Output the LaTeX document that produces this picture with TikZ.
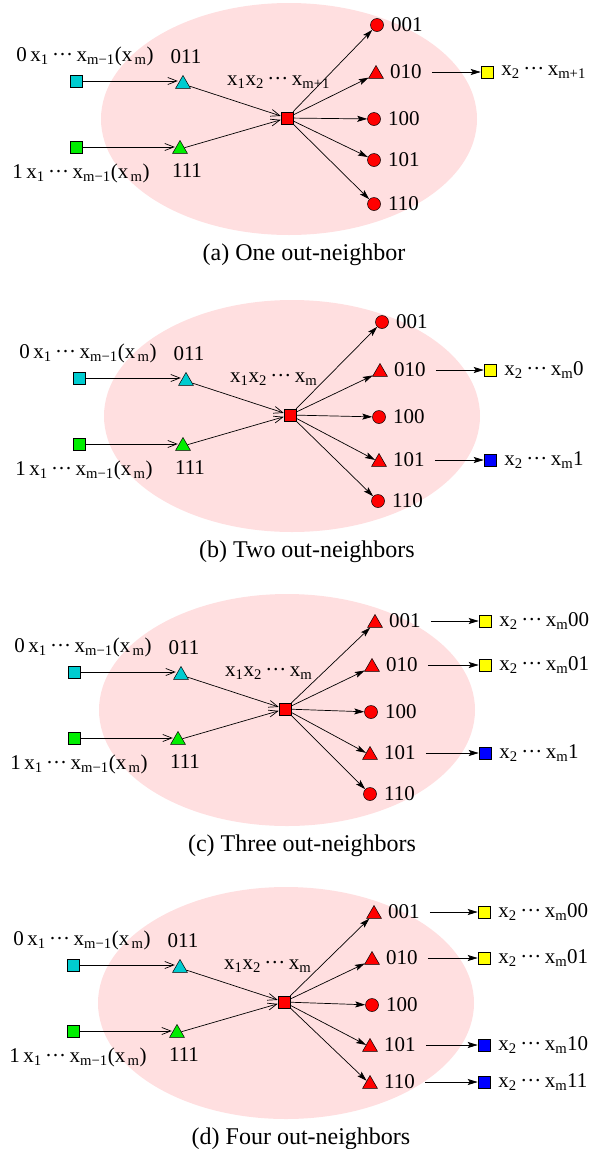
\documentclass[tikz,border=0pt]{standalone}
\usepackage{fontspec}
\setmainfont{Liberation Serif}
\usetikzlibrary{arrows.meta,shapes.geometric}
\definecolor{ellpink}{RGB}{255,223,224}
\definecolor{mycyan}{RGB}{0,204,208}
\definecolor{mygreen}{RGB}{0,238,0}
\definecolor{myyellow}{RGB}{255,255,0}
\definecolor{myblue}{RGB}{0,0,255}
\definecolor{myred}{RGB}{255,0,0}
\newcommand\xx[1]{x\textsubscript{#1}}
\newcommand\dts{\,···\,}
\tikzset{
 sqr/.style={shape=rectangle, draw, line width=0.5pt, minimum size=12pt, inner sep=0pt},
 rcir/.style={circle, draw, line width=0.5pt, fill=myred, minimum size=13pt, inner sep=0pt},
 tri/.style={regular polygon, regular polygon sides=3, draw, line width=0.5pt, minimum size=17pt, inner sep=0pt, yshift=-2pt},
 rtri/.style={tri, fill=myred},
 lab/.style={font=\fontsize{21}{25}\selectfont, inner sep=1pt},
 caplab/.style={font=\fontsize{24}{28}\selectfont, inner sep=1pt},
 inarr/.style={line width=0.7pt, -{Straight Barb[length=9pt,width=7pt]}},
 outarr/.style={line width=0.7pt, -{Stealth[length=10pt,width=6pt,inset=2pt]}},
 extarr/.style={outarr, shorten <=9pt},
}
\newcommand\ellpanel[3]{%
 \fill[ellpink] (2,1) ellipse [x radius=188pt, y radius=116pt];
 \node[sqr,fill=mycyan] (#1a) at (-211,-37) {};
 \node[sqr,fill=mygreen] (#1b) at (-211,29) {};
 \node[tri,fill=mycyan] (#1p) at (-104,-36) {};
 \node[tri,fill=mygreen] (#1q) at (-107,29) {};
 \node[sqr,fill=myred] (#1c) at (0,0) {};
 \node[lab] (#1la) at (-202,-62) {0\,\xx{1}\dts\xx{m−1}(x\textsubscript{\,m})};
 \node[lab] (#1lb) at (-206,55) {1\,\xx{1}\dts\xx{m−1}(x\textsubscript{\,m})};
 \node[lab] (#1lp) at (-101,-61) {011};
 \node[lab] (#1lq) at (-100,53) {111};
 \node[lab,anchor=west] (#1lc) at (-61,-36) {#2};
 \node[caplab] (#1cap) at (17,137) {#3};
 \draw[inarr] (#1a) -- (#1a -| #1p.west);
 \draw[inarr] (#1b) -- (#1b -| #1q.west);
 \draw[inarr] (#1p) -- (#1c);
 \draw[inarr] (#1q) -- (#1c);
}
\newcommand\outpt[6]{%
 \node[#3] (#1o#2) at (#4,#5) {};
 \node[lab,anchor=west] (#1t#2) at ({#4+13},#5) {#6};
 \draw[outarr] (#1c) -- (#1o#2);
}
\newcommand\extpt[5]{%
 \node[sqr,fill=#3] (#1e#2) at (200,#4) {};
 \node[lab,anchor=west] (#1x#2) at ([xshift=7pt]#1e#2.east) {#5};
 \draw[extarr] (#1t#2) -- (#1e#2);
}
\begin{document}
\begin{tikzpicture}[x=1pt,y=-1pt]
\useasboundingbox (0,0) rectangle (603,1149);
% (a)
\begin{scope}[shift={(287,118)}]
 \ellpanel{a}{\xx{1}\xx{2}\dts\xx{m+1}}{(a) One out-neighbor}
 \outpt{a}{1}{rcir}{90}{-93}{001}
 \outpt{a}{2}{rtri}{89}{-46}{010}
 \outpt{a}{3}{rcir}{87}{1}{100}
 \outpt{a}{4}{rcir}{87}{42}{101}
 \outpt{a}{5}{rcir}{87}{86}{110}
 \extpt{a}{2}{myyellow}{-46}{\xx{2}\dts\xx{m+1}}
\end{scope}
% (b)
\begin{scope}[shift={(290,415)}]
 \ellpanel{b}{\xx{1}\xx{2}\dts\xx{m}}{(b) Two out-neighbors}
 \outpt{b}{1}{rcir}{92}{-93}{001}
 \outpt{b}{2}{rtri}{90}{-45}{010}
 \outpt{b}{3}{rcir}{89}{2}{100}
 \outpt{b}{4}{rtri}{89}{45}{101}
 \outpt{b}{5}{rcir}{88}{86}{110}
 \extpt{b}{2}{myyellow}{-45}{\xx{2}\dts\xx{m}0}
 \extpt{b}{4}{myblue}{45}{\xx{2}\dts\xx{m}1}
\end{scope}
% (c)
\begin{scope}[shift={(285,709)}]
 \ellpanel{c}{\xx{1}\xx{2}\dts\xx{m}}{(c) Three out-neighbors}
 \outpt{c}{1}{rtri}{90}{-88}{001}
 \outpt{c}{2}{rtri}{87}{-44}{010}
 \outpt{c}{3}{rcir}{86}{3}{100}
 \outpt{c}{4}{rtri}{85}{44}{101}
 \outpt{c}{5}{rcir}{85}{85}{110}
 \extpt{c}{1}{myyellow}{-88}{\xx{2}\dts\xx{m}00}
 \extpt{c}{2}{myyellow}{-44}{\xx{2}\dts\xx{m}01}
 \extpt{c}{4}{myblue}{44}{\xx{2}\dts\xx{m}1}
\end{scope}
% (d)
\begin{scope}[shift={(284,1002)}]
 \ellpanel{d}{\xx{1}\xx{2}\dts\xx{m}}{(d) Four out-neighbors}
 \outpt{d}{1}{rtri}{90}{-90}{001}
 \outpt{d}{2}{rtri}{88}{-44}{010}
 \outpt{d}{3}{rcir}{88}{3}{100}
 \outpt{d}{4}{rtri}{86}{43}{101}
 \outpt{d}{5}{rtri}{86}{80}{110}
 \extpt{d}{1}{myyellow}{-90}{\xx{2}\dts\xx{m}00}
 \extpt{d}{2}{myyellow}{-44}{\xx{2}\dts\xx{m}01}
 \extpt{d}{4}{myblue}{43}{\xx{2}\dts\xx{m}10}
 \extpt{d}{5}{myblue}{80}{\xx{2}\dts\xx{m}11}
\end{scope}
\end{tikzpicture}
\end{document}
